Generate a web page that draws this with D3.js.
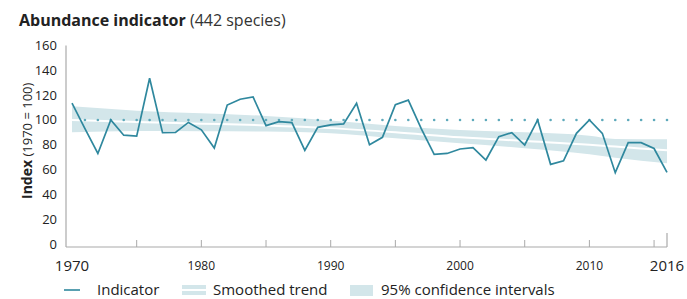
<!DOCTYPE html>
<html>
<head>
<meta charset="utf-8">
<style>
  body { margin: 0; background: #fff; }
  svg text { font-family: "Open Sans", "Noto Sans", sans-serif; fill: #222; }
</style>
<script src="https://d3js.org/d3.v7.min.js"></script>
</head>
<body>
<div id="chart"></div>
<script>
// indicator values, one per year 1970-2016
var years = d3.range(1970, 2017);
var indicator = [113.5, 93, 73, 100, 87.7, 87, 133.6, 89.8, 90, 98,
                 92, 77.4, 112, 116.7, 118.5, 95.4, 98.6, 97.8, 75.5, 94,
                 96, 96.8, 113.5, 80, 86, 112.3, 116, 93, 72.3, 73,
                 76.6, 77.7, 67.7, 86.5, 89.8, 79.8, 100, 64.2, 67, 89.2,
                 100, 89.2, 57.5, 81.7, 81.7, 77, 57.8];

// smoothed trend and 95% confidence band, read at a few years
var trendYears = [1970, 1975, 1980, 1985, 1990, 1995, 2000, 2005, 2010, 2012, 2016];
var trend      = [100, 98.3, 97, 95.6, 93.4, 90, 86, 83, 80, 78.5, 75.5];
var lower      = [90, 91, 90.8, 90.6, 89.2, 85.2, 81.2, 77.2, 72.3, 69.5, 65];
var upper      = [111, 107.5, 105.4, 103.2, 99.6, 95.2, 91.9, 90, 87.3, 84.7, 84.5];

var yTicks = [0, 20, 40, 60, 80, 100, 120, 140, 160];
var xTicks = [1975, 1980, 1985, 1990, 1995, 2000, 2005, 2010, 2015];
var xLabels = [1980, 1990, 2000, 2010];
var xEndLabels = [1970, 2016];
var baseline = 100;

var W = 687, H = 299;
var lineColor = "#2f889e", bandColor = "#d3e6ea", dotColor = "#5ea9bb";

var svg = d3.select("#chart").append("svg")
    .attr("width", W).attr("height", H);

var x = d3.scaleLinear().domain([1970, 2016]).range([72, 667]);
var y = d3.scaleLinear().domain([0, 160]).range([244, 45.5]);

// title
var title = svg.append("text").attr("x", 19).attr("y", 26).style("font-size", "16px");
title.append("tspan").style("font-weight", "bold").text("Abundance indicator");
title.append("tspan").style("fill", "#333").text(" (442 species)");

// y axis label
var yl = svg.append("text")
    .attr("transform", "translate(32,199) rotate(-90)")
    .style("font-size", "14px");
yl.append("tspan").style("font-weight", "bold").text("Index");
yl.append("tspan").style("font-size", "13px").text(" (1970 = 100)");

// y tick labels
svg.selectAll(".ylab").data(yTicks).enter().append("text")
    .attr("x", 57).attr("y", function(d) { return y(d); })
    .attr("dy", "0.35em")
    .attr("text-anchor", "end")
    .style("font-size", "13px")
    .text(function(d) { return d; });

// axes lines
var axisColor = "#aaa";
svg.append("line").attr("x1", 66).attr("x2", 66)
    .attr("y1", y(160)).attr("y2", 247)
    .attr("stroke", axisColor).attr("stroke-width", 1.2);
svg.append("line").attr("x1", 66).attr("x2", x(2016))
    .attr("y1", 247).attr("y2", 247)
    .attr("stroke", axisColor).attr("stroke-width", 1.2);
svg.selectAll(".xtick").data(xTicks).enter().append("line")
    .attr("x1", function(d) { return x(d); }).attr("x2", function(d) { return x(d); })
    .attr("y1", 240).attr("y2", 247)
    .attr("stroke", axisColor).attr("stroke-width", 1);
svg.append("line").attr("x1", x(2016)).attr("x2", x(2016))
    .attr("y1", 233).attr("y2", 247)
    .attr("stroke", axisColor).attr("stroke-width", 1.2);

// x labels
svg.selectAll(".xlab").data(xLabels).enter().append("text")
    .attr("x", function(d) { return x(d); }).attr("y", 270)
    .attr("text-anchor", "middle")
    .style("font-size", "12px")
    .text(function(d) { return d; });
svg.selectAll(".xend").data(xEndLabels).enter().append("text")
    .attr("x", function(d) { return x(d); }).attr("y", 271)
    .attr("text-anchor", "middle")
    .style("font-size", "15px")
    .text(function(d) { return d; });

// confidence band
var band = trendYears.map(function(t, i) { return {t: t, lo: lower[i], hi: upper[i], m: trend[i]}; });
svg.append("path").datum(band)
    .attr("fill", bandColor)
    .attr("d", d3.area().curve(d3.curveMonotoneX)
        .x(function(d) { return x(d.t); })
        .y0(function(d) { return y(d.lo); })
        .y1(function(d) { return y(d.hi); }));

// smoothed trend
svg.append("path").datum(band)
    .attr("fill", "none").attr("stroke", "#fff").attr("stroke-width", 2)
    .attr("d", d3.line().curve(d3.curveMonotoneX)
        .x(function(d) { return x(d.t); })
        .y(function(d) { return y(d.m); }));

// dotted 100 reference
svg.selectAll(".dot").data(years.slice(1)).enter().append("circle")
    .attr("cx", function(d) { return x(d); })
    .attr("cy", y(baseline))
    .attr("r", 1.3)
    .attr("fill", dotColor);

// indicator line
svg.append("path").datum(years.map(function(t, i) { return [t, indicator[i]]; }))
    .attr("fill", "none").attr("stroke", lineColor).attr("stroke-width", 1.7)
    .attr("stroke-linejoin", "miter")
    .attr("d", d3.line()
        .x(function(d) { return x(d[0]); })
        .y(function(d) { return y(d[1]); }));

// legend
var lg = svg.append("g").attr("transform", "translate(0,290)");
lg.append("line").attr("x1", 64).attr("x2", 80).attr("y1", 0).attr("y2", 0)
    .attr("stroke", lineColor).attr("stroke-width", 1.6);
lg.append("text").attr("x", 97).attr("y", 5).style("font-size", "15px").text("Indicator");
lg.append("rect").attr("x", 182).attr("y", -5).attr("width", 24).attr("height", 10).attr("fill", bandColor);
lg.append("line").attr("x1", 182).attr("x2", 206).attr("y1", 0).attr("y2", 0)
    .attr("stroke", "#fff").attr("stroke-width", 2);
lg.append("text").attr("x", 213).attr("y", 5).style("font-size", "15px").text("Smoothed trend");
lg.append("rect").attr("x", 350).attr("y", -5).attr("width", 23).attr("height", 11).attr("fill", bandColor);
lg.append("text").attr("x", 381).attr("y", 5).style("font-size", "15px").text("95% confidence intervals");
</script>
</body>
</html>
